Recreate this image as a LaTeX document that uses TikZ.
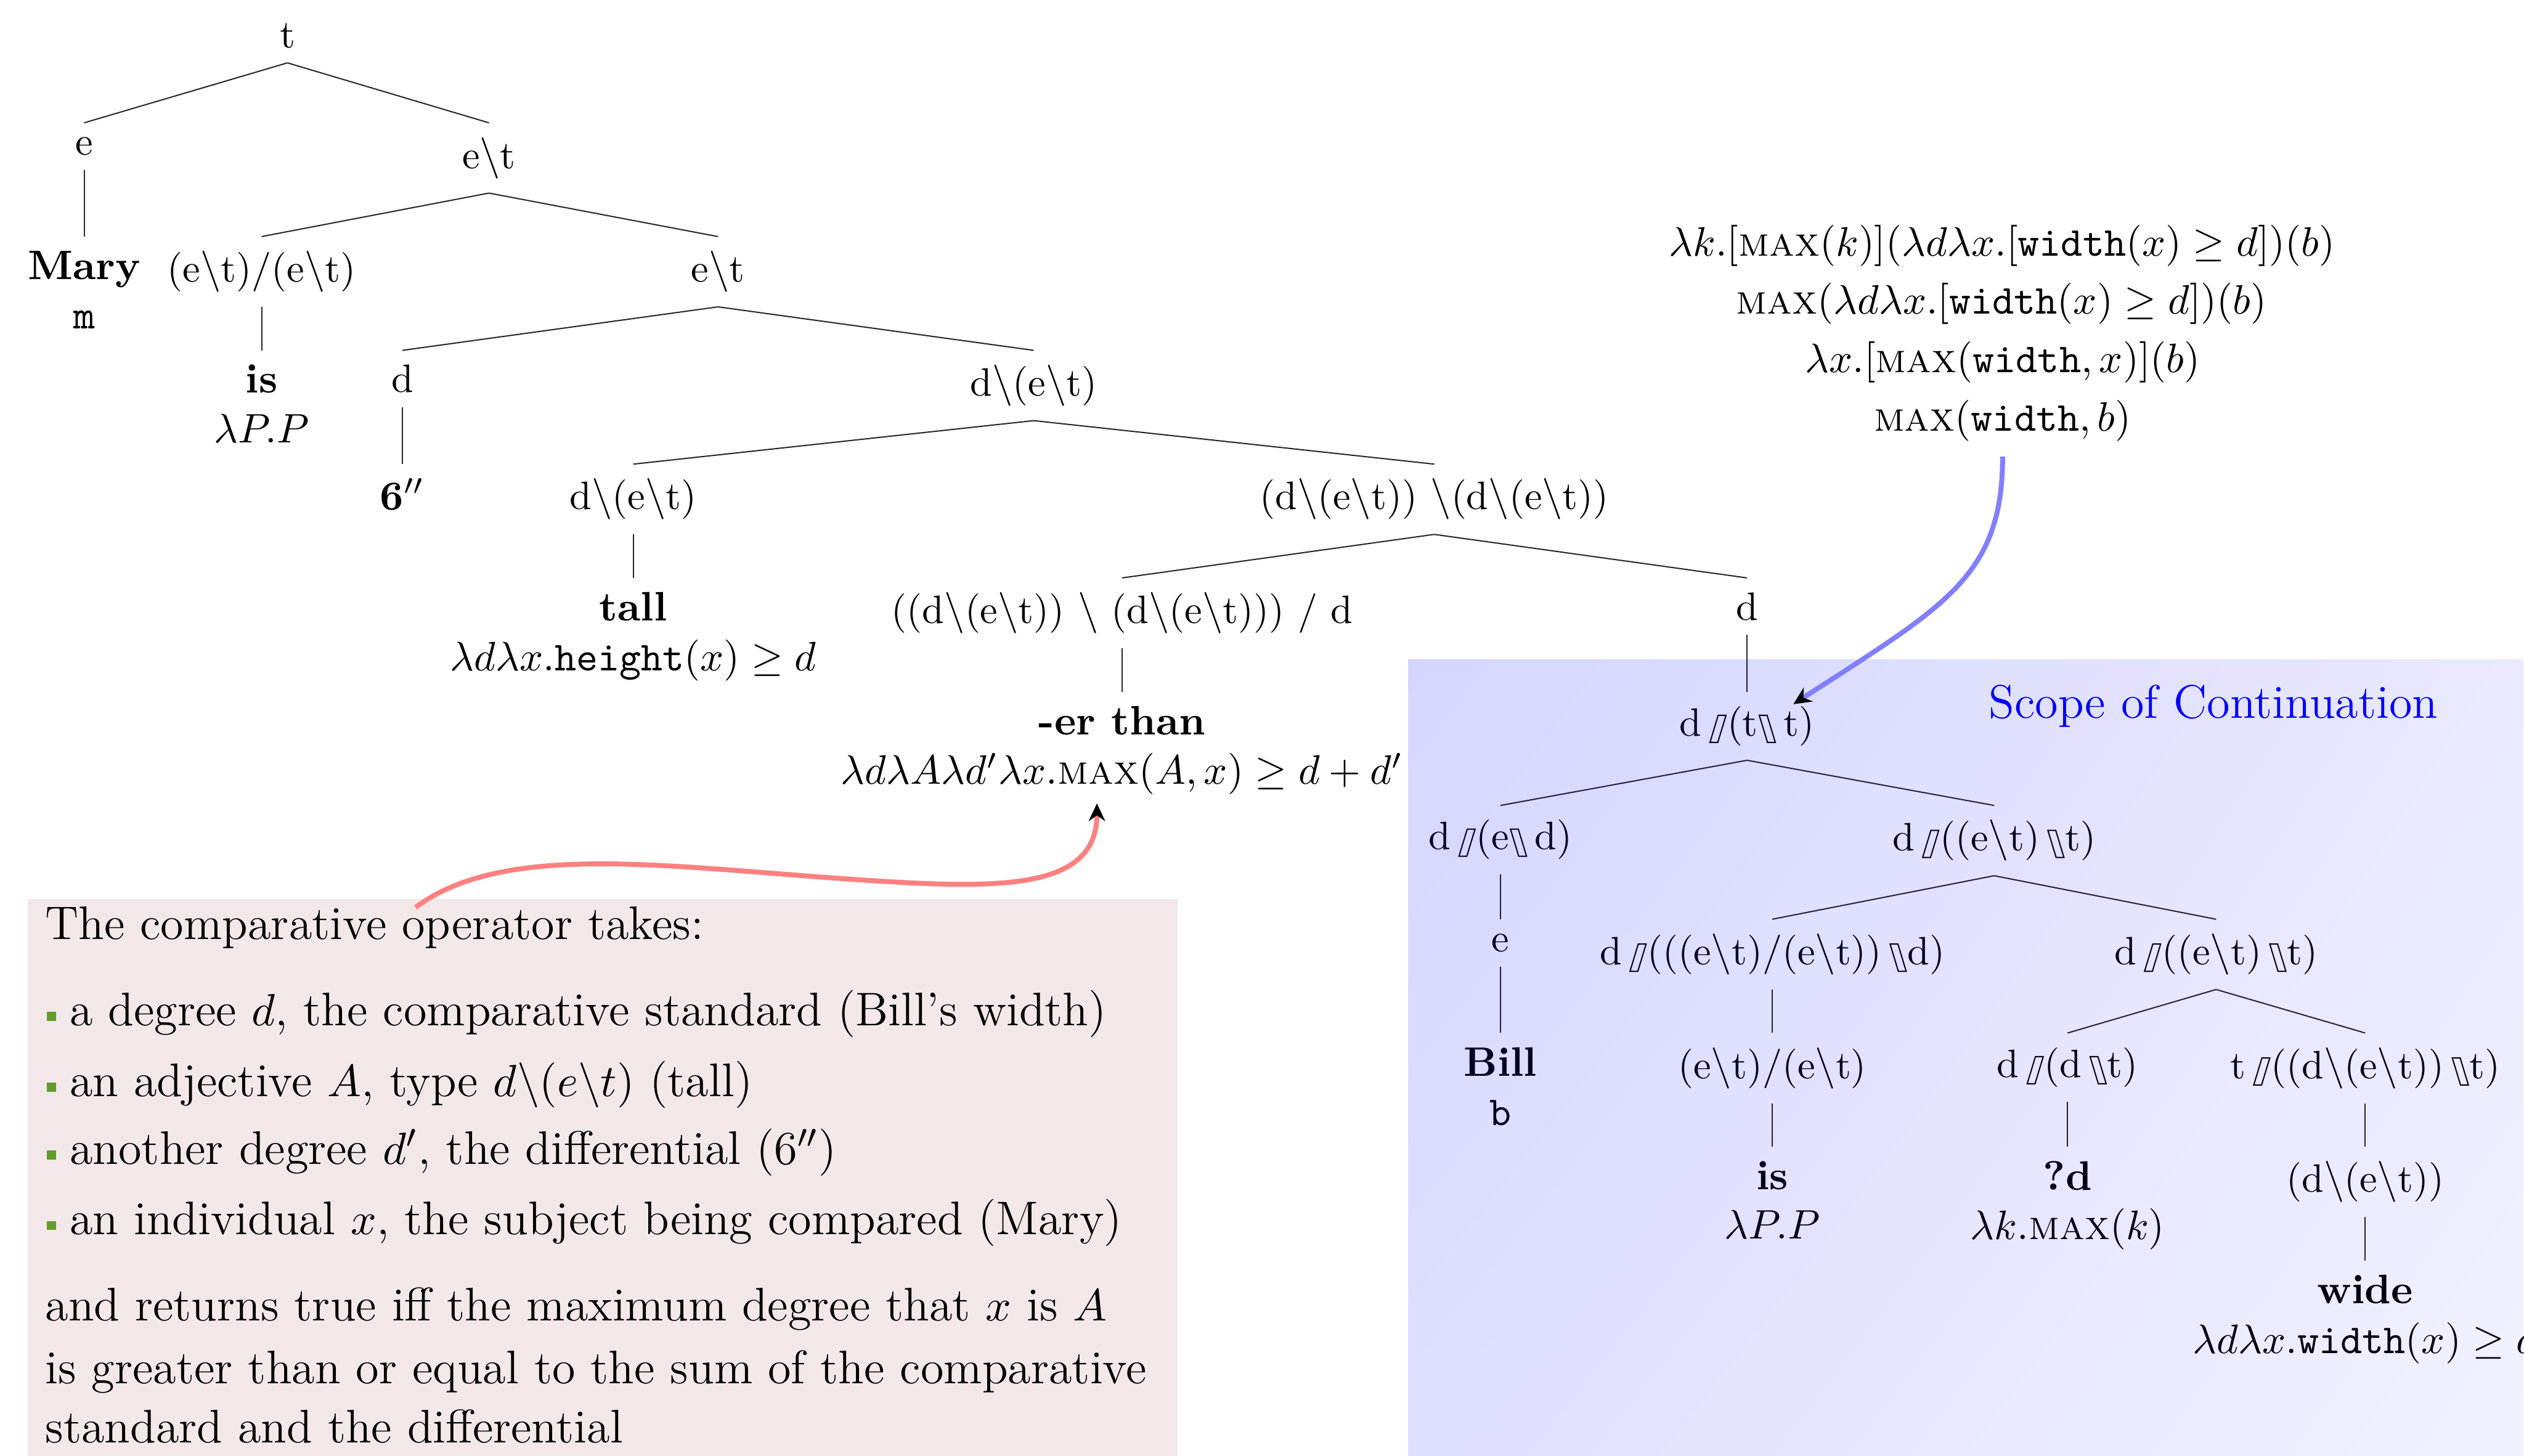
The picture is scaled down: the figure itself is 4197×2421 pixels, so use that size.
\documentclass[tikz,border=0pt]{standalone}
\usetikzlibrary{arrows.meta,fadings,shadings}
\definecolor{boxpink}{RGB}{243,232,233}
\definecolor{bgreen}{RGB}{100,155,45}
\newcommand{\dsl}{\tikz[baseline=0pt,x=1pt,y=1pt,line width=0.3pt,black]{\draw (0.3,-1.6)--(2.2,-1.6)--(4.2,5)--(2.3,5)--cycle; \path (0,0) (4.5,0);}}
\newcommand{\dbsl}{\tikz[baseline=0pt,x=1pt,y=1pt,line width=0.3pt,black]{\draw (0.3,5)--(2.2,5)--(4.2,-1.6)--(2.3,-1.6)--cycle; \path (0,0) (4.5,0);}}
\newcommand{\gp}{\hspace{1.7pt}}
\newcommand{\bsl}{$\backslash$}
\newcommand{\bul}{\raisebox{1.1pt}{\textcolor{bgreen}{\rule{2.2pt}{2.2pt}}}\hspace{3.3pt}}
\begin{tikzfadingfrompicture}[name=scopefade]
\shade[upper left=transparent!0, upper right=transparent!80, lower left=transparent!35, lower right=transparent!100] (0,0) rectangle (4,3);
\end{tikzfadingfrompicture}
\begin{document}
\begin{tikzpicture}[x=0.146pt, y=-0.146pt,
  tn/.style={anchor=north, inner sep=3.33pt, font=\fontsize{10}{12}\selectfont, align=center},
  cat/.style={tn, font=\fontsize{9.6}{11.5}\selectfont},
  edge/.style={line width=0.3pt, black!85},
  boxtxt/.style={anchor=base west, inner sep=0pt, font=\fontsize{11.45}{14}\selectfont},
  fml/.style={anchor=base, inner sep=0pt, font=\fontsize{10}{12}\selectfont},
  tipk/.style={-{Stealth[black,length=4.3pt,width=4pt]}}]
\useasboundingbox (0,0) rectangle (4197,2421);
% comment box
\fill[boxpink] (46,1495) rectangle (1958,2421);
\node[boxtxt] (b0) at (74,1562) {The comparative operator takes:};
\node[boxtxt] (b1) at (77,1705) {\bul a degree $d$, the comparative standard (Bill's width)};
\node[boxtxt] (b2) at (77,1823) {\bul an adjective $A$, type $d\backslash(e\backslash t)$ (tall)};
\node[boxtxt] (b3) at (77,1936) {\bul another degree $d'$, the differential (6$''$)};
\node[boxtxt] (b4) at (77,2053) {\bul an individual $x$, the subject being compared (Mary)};
\node[boxtxt] (b5) at (74,2196) {and returns true iff the maximum degree that $x$ is $A$};
\node[boxtxt] (b6) at (74,2301) {is greater than or equal to the sum of the comparative};
\node[boxtxt] (b7) at (74,2399) {standard and the differential};
% main tree
\node[cat] (t) at (478,15) {t};
\node[cat] (e1) at (140,204.2) {e};
\node[cat] (et1) at (813,204.2) {e\bsl t};
\node[tn] (mary) at (140,393.4) {\textbf{Mary}\\\texttt{m}};
\node[cat] (mod1) at (435,393.4) {(e\bsl t)/(e\bsl t)};
\node[cat] (et2) at (1194,393.4) {e\bsl t};
\node[tn] (is1) at (435,582.6) {\textbf{is}\\$\lambda P.P$};
\node[cat] (d1) at (669,582.6) {d};
\node[cat] (det1) at (1719,582.6) {d\bsl(e\bsl t)};
\node[tn] (six) at (669,771.8) {\textbf{6}$''$};
\node[cat] (det2) at (1053,771.8) {d\bsl(e\bsl t)};
\node[cat] (mod2) at (2385,771.8) {(d\bsl(e\bsl t)) \bsl(d\bsl(e\bsl t))};
\node[tn] (tall) at (1053,961) {\textbf{tall}\\$\lambda d\lambda x.\texttt{height}(x)\geq d$};
\node[cat] (er) at (1866,961) {((d\bsl(e\bsl t)) \bsl{} (d\bsl(e\bsl t))) / d};
\node[cat] (d2) at (2905,961) {d};
\node[tn] (erthan) at (1866,1150.2) {\textbf{-er than}\\$\lambda d\lambda A\lambda d'\lambda x.\textsc{max}(A,x)\geq d+d'$};
% scope tree
\node[cat] (s0) at (2905,1150.2) {d\gp\dsl(t\dbsl\gp t)};
\node[cat] (s1) at (2495,1339.4) {d\gp\dsl(e\dbsl\gp d)};
\node[cat] (s2) at (3316,1339.4) {d\gp\dsl((e\bsl t)\gp\dbsl t)};
\node[cat] (s3) at (2495,1528.6) {e};
\node[cat] (s4) at (2947,1528.6) {d\gp\dsl(((e\bsl t)/(e\bsl t))\gp\dbsl d)};
\node[cat] (s5) at (3685,1528.6) {d\gp\dsl((e\bsl t)\gp\dbsl t)};
\node[tn] (bill) at (2495,1717.8) {\textbf{Bill}\\\texttt{b}};
\node[cat] (s6) at (2947,1717.8) {(e\bsl t)/(e\bsl t)};
\node[cat] (s7) at (3438,1717.8) {d\gp\dsl(d\gp\dbsl t)};
\node[cat] (s8) at (3933,1717.8) {t\gp\dsl((d\bsl(e\bsl t))\gp\dbsl t)};
\node[tn] (is2) at (2947,1907) {\textbf{is}\\$\lambda P.P$};
\node[tn] (qd) at (3438,1907) {\textbf{?d}\\$\lambda k.\textsc{max}(k)$};
\node[cat] (s9) at (3933,1907) {(d\bsl(e\bsl t))};
\node[tn] (wide) at (3933,2096.2) {\textbf{wide}\\$\lambda d\lambda x.\texttt{width}(x)\geq d$};
% edges
\draw[edge] (t.south) -- (e1.north);
\draw[edge] (t.south) -- (et1.north);
\draw[edge] (e1.south) -- (mary.north);
\draw[edge] (et1.south) -- (mod1.north);
\draw[edge] (et1.south) -- (et2.north);
\draw[edge] (mod1.south) -- (is1.north);
\draw[edge] (et2.south) -- (d1.north);
\draw[edge] (et2.south) -- (det1.north);
\draw[edge] (d1.south) -- (six.north);
\draw[edge] (det1.south) -- (det2.north);
\draw[edge] (det1.south) -- (mod2.north);
\draw[edge] (det2.south) -- (tall.north);
\draw[edge] (mod2.south) -- (er.north);
\draw[edge] (mod2.south) -- (d2.north);
\draw[edge] (er.south) -- (erthan.north);
\draw[edge] (d2.south) -- (s0.north);
\draw[edge] (s0.south) -- (s1.north);
\draw[edge] (s0.south) -- (s2.north);
\draw[edge] (s1.south) -- (s3.north);
\draw[edge] (s3.south) -- (bill.north);
\draw[edge] (s2.south) -- (s4.north);
\draw[edge] (s2.south) -- (s5.north);
\draw[edge] (s4.south) -- (s6.north);
\draw[edge] (s6.south) -- (is2.north);
\draw[edge] (s5.south) -- (s7.north);
\draw[edge] (s5.south) -- (s8.north);
\draw[edge] (s7.south) -- (qd.north);
\draw[edge] (s8.south) -- (s9.north);
\draw[edge] (s9.south) -- (wide.north);
% scope overlay
\fill[blue, fill opacity=0.23, path fading=scopefade] (2342,1097) rectangle (4197,2421);
\node[boxtxt, text=blue] (scope) at (3306,1194) {Scope of Continuation};
% formula block
\node[fml] (f1) at (3329,426) {$\lambda k.[\textsc{max}(k)](\lambda d\lambda x.[\texttt{width}(x)\geq d])(b)$};
\node[fml] (f2) at (3328,522) {$\textsc{max}(\lambda d\lambda x.[\texttt{width}(x)\geq d])(b)$};
\node[fml] (f3) at (3330,619) {$\lambda x.[\textsc{max}(\texttt{width},x)](b)$};
\node[fml] (f4) at (3330,717) {$\textsc{max}(\texttt{width},b)$};
% arrows
\coordinate (rs) at (691,1509);
\coordinate (re) at (1824,1336);
\draw[red!50, line width=1.2pt, tipk] (rs) .. controls (835,1401) and (1100,1440) .. (1400,1461) .. controls (1650,1478.5) and (1824,1486) .. (re);
\coordinate (bs) at (3330,759);
\coordinate (be) at (2982,1171);
\draw[blue!50, line width=1.2pt, tipk] (bs) .. controls (3330,959) and (3234,1007.5) .. (be);
\end{tikzpicture}
\end{document}
